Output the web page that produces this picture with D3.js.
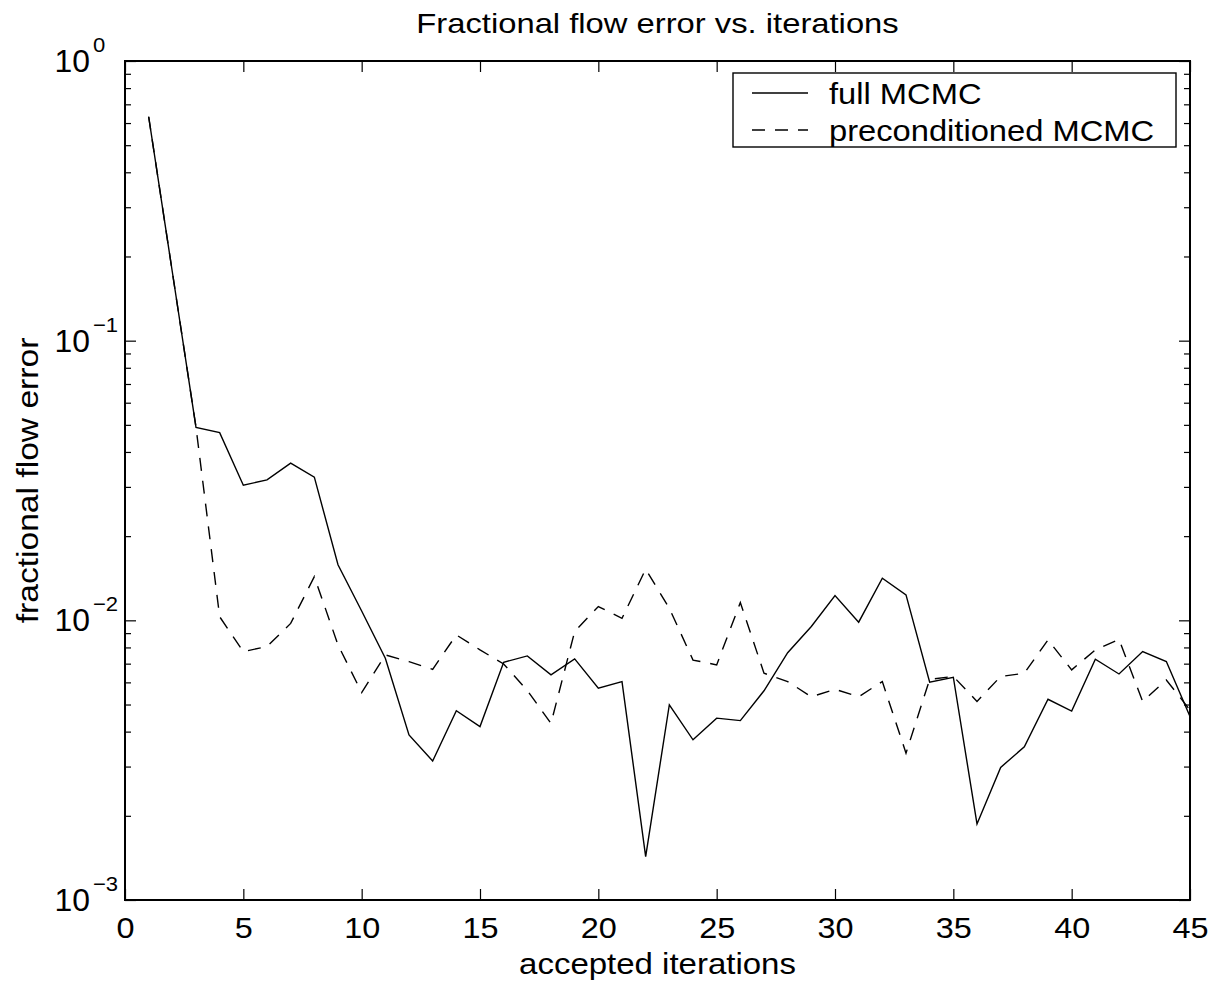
<!DOCTYPE html>
<html>
<head>
<meta charset="utf-8">
<script src="https://cdn.jsdelivr.net/npm/d3@7"></script>
<style>
  body { margin: 0; background: #fff; }
  svg { display: block; font-family: "Liberation Sans", Arial, sans-serif; }
</style>
</head>
<body>
<div id="chart-area"></div>
<script>
// accepted iterations 1..45
var iterations = d3.range(1, 46)

var fullMcmc = [
  0.632, 0.176, 0.049, 0.0469, 0.0304, 0.0318, 0.0365, 0.0325, 0.0158, 0.0108,
  0.00732, 0.00389, 0.00314, 0.00475, 0.00417, 0.00708, 0.00746, 0.00638, 0.00728, 0.00572,
  0.00604, 0.00143, 0.00499, 0.00374, 0.00447, 0.00438, 0.0056, 0.00766, 0.00951, 0.01226,
  0.00985, 0.01414, 0.01233, 0.00601, 0.00626, 0.00187, 0.00298, 0.00353, 0.00522, 0.00474,
  0.00726, 0.00643, 0.00773, 0.00712, 0.00453
]

var preconditionedMcmc = [
  0.632, 0.176, 0.049, 0.0103, 0.00773, 0.00806, 0.00975, 0.01433, 0.00817, 0.00552,
  0.00752, 0.00712, 0.00668, 0.00887, 0.00784, 0.00698, 0.00561, 0.00428, 0.00912, 0.0112,
  0.01017, 0.01524, 0.01104, 0.00721, 0.00693, 0.01158, 0.00647, 0.00604, 0.00533, 0.00567,
  0.00533, 0.00604, 0.00335, 0.00615, 0.0063, 0.00513, 0.0063, 0.00647, 0.00851, 0.00665,
  0.00784, 0.00855, 0.00513, 0.00612, 0.00478
]

var seriesNames = ['full MCMC', 'preconditioned MCMC']
var xTicks = [0, 5, 10, 15, 20, 25, 30, 35, 40, 45]
var yTicks = [1e-3, 1e-2, 1e-1, 1e0]
var yExponents = ['\u22123', '\u22122', '\u22121', '0']

var margin = { top: 61, left: 125, bottom: 82, right: 18 }
var width = 1208 - margin.left - margin.right
var height = 982 - margin.top - margin.bottom

var svg = d3.select('#chart-area').append('svg')
    .attr('width', 1208)
    .attr('height', 982)

var g = svg.append('g').attr('transform', `translate(${ margin.left }, ${ margin.top })`)

var x = d3.scaleLinear().domain([0, 45]).range([0, width])
var y = d3.scaleLog().domain([1e-3, 1]).range([height, 0])

// the reference font is a bit wider than Liberation Sans, so stretch text along its baseline
function addText(parent, px, py, str, size, anchor, sx, rot) {
  var holder = parent.append('g')
    .attr('transform', `translate(${ px }, ${ py }) rotate(${ rot || 0 }) scale(${ sx }, 1)`)
  return holder.append('text')
    .attr('text-anchor', anchor)
    .attr('fill', '#000')
    .attr('font-size', size + 'px')
    .text(str)
}

// minor ticks on the log axis
var minorTicks = []
yTicks.slice(0, -1).forEach(t => {
  for (var k = 2; k <= 9; k++) minorTicks.push(t * k)
})

function styleAxis(sel) {
  sel.select('.domain').remove()
  sel.selectAll('.tick line').attr('stroke', '#000').attr('stroke-width', 1.2)
  sel.selectAll('.tick text').remove()
}

// bottom axis, ticks pointing in
var xAxisGroup = g.append('g').attr('transform', `translate(0, ${ height })`)
  .call(d3.axisBottom(x).tickValues(xTicks).tickSizeInner(-11).tickSizeOuter(0))
styleAxis(xAxisGroup)
xAxisGroup.selectAll('.tick').each(function(d) {
  addText(d3.select(this), 0, 38, d, 30, 'middle', 1.08)
})

// top axis
var xTopGroup = g.append('g')
  .call(d3.axisTop(x).tickValues(xTicks).tickSizeInner(-11).tickSizeOuter(0))
styleAxis(xTopGroup)

// left axis (major + minor)
var yAxisGroup = g.append('g')
  .call(d3.axisLeft(y).tickValues(yTicks).tickSizeInner(-11).tickSizeOuter(0))
styleAxis(yAxisGroup)
var yMinorLeft = g.append('g')
  .call(d3.axisLeft(y).tickValues(minorTicks).tickSizeInner(-6).tickSizeOuter(0))
styleAxis(yMinorLeft)

// right axis (major + minor)
var yRightGroup = g.append('g').attr('transform', `translate(${ width }, 0)`)
  .call(d3.axisRight(y).tickValues(yTicks).tickSizeInner(-11).tickSizeOuter(0))
styleAxis(yRightGroup)
var yMinorRight = g.append('g').attr('transform', `translate(${ width }, 0)`)
  .call(d3.axisRight(y).tickValues(minorTicks).tickSizeInner(-6).tickSizeOuter(0))
styleAxis(yMinorRight)

// y tick labels: 10 with superscript exponent
yTicks.forEach((t, i) => {
  addText(g, -35, y(t) + 11, '10', 31, 'end', 1.03)
  addText(g, -32, y(t) - 9, yExponents[i], 21, 'start', 1.05)
})

// plot frame
g.append('rect')
  .attr('x', 0).attr('y', 0)
  .attr('width', width).attr('height', height)
  .attr('fill', 'none')
  .attr('stroke', '#000')
  .attr('stroke-width', 2)

var line = d3.line()
  .x((d, i) => x(iterations[i]))
  .y(d => y(d))

g.append('path')
  .datum(fullMcmc)
  .attr('fill', 'none')
  .attr('stroke', '#000')
  .attr('stroke-width', 1.4)
  .attr('d', line)

g.append('path')
  .datum(preconditionedMcmc)
  .attr('fill', 'none')
  .attr('stroke', '#000')
  .attr('stroke-width', 1.4)
  .attr('stroke-dasharray', '13,10')
  .attr('d', line)

// legend
var legend = svg.append('g').attr('transform', 'translate(733, 73)')
legend.append('rect')
  .attr('width', 443).attr('height', 74)
  .attr('fill', '#fff')
  .attr('stroke', '#000')
  .attr('stroke-width', 1.4)
var dashes = [null, '13,10']
seriesNames.forEach((name, i) => {
  var row = legend.append('g').attr('transform', `translate(0, ${ 20 + i * 37 })`)
  row.append('line')
    .attr('x1', 19).attr('x2', 75)
    .attr('stroke', '#000')
    .attr('stroke-width', 1.4)
    .attr('stroke-dasharray', dashes[i])
  addText(row, 96, 11, name, 30, 'start', 1.09)
})

// titles
addText(svg, margin.left + width / 2, 33, 'Fractional flow error vs. iterations', 28, 'middle', 1.17)
addText(svg, margin.left + width / 2, 974, 'accepted iterations', 30, 'middle', 1.1)
addText(svg, 38, margin.top + height / 2, 'fractional flow error', 30, 'middle', 1.12, -90)
</script>
</body>
</html>
